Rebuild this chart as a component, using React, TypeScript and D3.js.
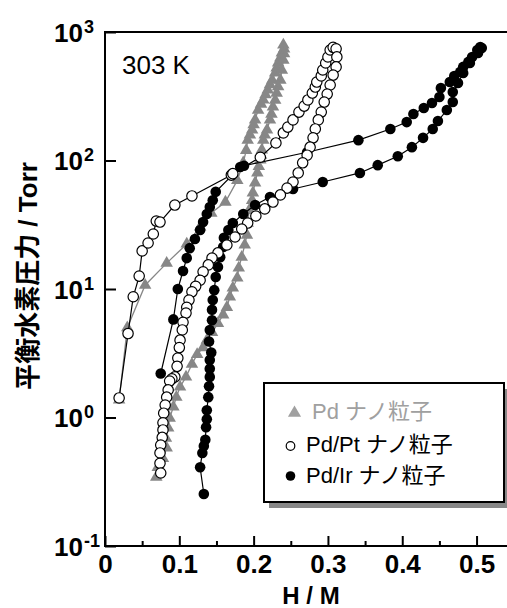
import React, { useEffect, useRef } from 'react';
import * as d3 from 'd3';

type Pt = [number, number];

// H/M, equilibrium pressure (Torr)
const pdData: Pt[] = [
  [0.019, 1.37], [0.030, 5.0], [0.054, 10.7], [0.083, 15.9], [0.110, 22.4], [0.128, 30.4],
  [0.143, 39], [0.162, 47.5], [0.178, 70], [0.186, 96], [0.190, 120], [0.192, 144],
  [0.195, 158], [0.198, 173], [0.200, 190], [0.202, 207], [0.206, 247], [0.210, 275],
  [0.213, 296], [0.216, 325], [0.219, 354], [0.222, 390], [0.225, 423], [0.229, 480],
  [0.231, 525], [0.233, 574], [0.236, 630], [0.238, 687], [0.240, 793],
  [0.241, 740], [0.241, 680], [0.240, 605], [0.238, 506], [0.236, 423], [0.233, 375],
  [0.231, 335], [0.229, 295], [0.226, 261], [0.224, 230], [0.222, 207], [0.218, 173],
  [0.215, 158], [0.213, 144], [0.211, 121], [0.210, 110], [0.209, 101], [0.207, 90],
  [0.205, 80], [0.202, 67], [0.199, 56], [0.198, 49], [0.194, 41], [0.192, 32.6],
  [0.191, 26.3], [0.188, 22], [0.184, 17.7], [0.180, 14.6], [0.178, 12.2], [0.172, 10.2],
  [0.168, 8.7], [0.164, 7.2], [0.159, 6.3], [0.152, 5.4], [0.144, 4.6], [0.137, 4.0],
  [0.132, 3.5], [0.124, 3.1], [0.117, 2.6], [0.109, 2.07], [0.101, 1.73], [0.096, 1.44],
  [0.092, 1.21], [0.087, 0.99], [0.085, 0.83], [0.082, 0.69], [0.083, 0.58], [0.078, 0.48],
  [0.071, 0.41], [0.069, 0.344],
];

const pdPtData: Pt[] = [
  [0.019, 1.42], [0.031, 4.5], [0.038, 8.7], [0.046, 12.6], [0.050, 19.8], [0.058, 22.8],
  [0.065, 26.8], [0.069, 33.8], [0.074, 33.2], [0.094, 45], [0.117, 53], [0.170, 77],
  [0.172, 79], [0.209, 106], [0.230, 137], [0.240, 164], [0.246, 182], [0.253, 207],
  [0.261, 238], [0.268, 265], [0.273, 296], [0.279, 335], [0.283, 373], [0.285, 408],
  [0.291, 455], [0.293, 506], [0.297, 574], [0.300, 639], [0.303, 724], [0.307, 760],
  [0.311, 740], [0.312, 640], [0.311, 535], [0.307, 462], [0.303, 387], [0.299, 329],
  [0.295, 285], [0.291, 238], [0.287, 207], [0.283, 176], [0.280, 150], [0.276, 127],
  [0.272, 110], [0.266, 96], [0.260, 80], [0.253, 68], [0.245, 61], [0.236, 54],
  [0.226, 47.5], [0.215, 42], [0.203, 37], [0.192, 32.6], [0.184, 29.3], [0.175, 25.4],
  [0.164, 22], [0.152, 19.1], [0.144, 17.4], [0.139, 15.4], [0.132, 13.6], [0.128, 11.7],
  [0.122, 10.5], [0.117, 9.5], [0.113, 8.2], [0.110, 7.2], [0.109, 6.5], [0.105, 5.5],
  [0.104, 4.8], [0.101, 4.0], [0.100, 3.5], [0.098, 2.9], [0.097, 2.5], [0.094, 2.07],
  [0.090, 2.0], [0.087, 1.92], [0.085, 1.64], [0.083, 1.44], [0.081, 1.25], [0.079, 1.08],
  [0.078, 0.91], [0.078, 0.80], [0.077, 0.70], [0.075, 0.61], [0.074, 0.53], [0.074, 0.44],
  [0.075, 0.37],
];

const pdIrData: Pt[] = [
  [0.075, 2.2], [0.092, 5.8], [0.098, 10], [0.105, 13.8], [0.110, 17.4], [0.114, 20.8],
  [0.121, 24.5], [0.128, 28.8], [0.132, 33.2], [0.137, 38.3], [0.141, 43.5], [0.145, 49],
  [0.149, 57], [0.182, 89], [0.187, 91], [0.272, 116], [0.341, 144], [0.384, 176],
  [0.406, 199], [0.415, 230], [0.429, 256], [0.440, 280], [0.450, 312], [0.452, 366],
  [0.464, 408], [0.470, 455], [0.478, 489], [0.482, 535], [0.489, 585], [0.494, 639],
  [0.501, 724], [0.505, 764], [0.507, 750],
  [0.502, 687], [0.491, 574], [0.482, 480], [0.475, 401], [0.468, 341], [0.468, 285],
  [0.460, 247], [0.448, 203], [0.441, 176], [0.428, 150], [0.413, 127], [0.394, 108],
  [0.367, 92], [0.343, 80], [0.293, 68], [0.253, 60], [0.222, 52], [0.202, 45],
  [0.186, 38.3], [0.172, 32.6], [0.166, 28.8], [0.160, 25], [0.159, 21.2], [0.155, 17.7],
  [0.152, 14.8], [0.149, 12.4], [0.147, 9.8], [0.145, 8.2], [0.144, 6.9], [0.144, 5.7],
  [0.141, 4.8], [0.140, 3.9], [0.143, 3.2], [0.141, 2.8], [0.141, 2.4], [0.141, 2.07],
  [0.140, 1.75], [0.139, 1.44], [0.137, 1.14], [0.137, 0.97], [0.136, 0.84], [0.135, 0.67],
  [0.133, 0.6], [0.131, 0.53], [0.128, 0.41], [0.133, 0.254],
];

const xMajor = [0, 0.1, 0.2, 0.3, 0.4, 0.5];
const xMinor = [0.05, 0.15, 0.25, 0.35, 0.45];
const yDecades = [0.1, 1, 10, 100, 1000];
const yExponents = ['-1', '0', '1', '2', '3'];
const legendLabels = ['Pd ナノ粒子', 'Pd/Pt ナノ粒子', 'Pd/Ir ナノ粒子'];

const App: React.FC = () => {
  const svgRef = useRef<SVGSVGElement>(null);

  useEffect(() => {
    if (!svgRef.current) return;
    const svg = d3.select(svgRef.current);
    svg.selectAll('*').remove();

    const latin = "'Liberation Sans', Arial, Helvetica, sans-serif";
    const mixed = "'Liberation Sans', Arial, 'Noto Sans CJK JP', sans-serif";
    const gray = '#878787';

    const x = d3.scaleLinear().domain([0, 0.545]).range([105, 510]);
    const y = d3.scaleLog().domain([0.1, 1000]).range([546, 32]);

    // frame
    svg.append('rect')
      .attr('x', 105).attr('y', 32).attr('width', 405).attr('height', 514)
      .attr('fill', 'none').attr('stroke', '#000').attr('stroke-width', 2);

    // x axis
    const gx = svg.append('g').attr('transform', 'translate(0,546)')
      .call(d3.axisBottom(x).tickValues(xMajor).tickSizeInner(-10).tickSizeOuter(0).tickPadding(9)
        .tickFormat(d => (d === 0 ? '0' : d3.format('.1f')(d as number))));
    gx.select('.domain').remove();
    gx.selectAll('line').attr('stroke-width', 2);
    gx.selectAll('text').attr('font-family', latin).attr('font-size', 26)
      .attr('font-weight', 'bold').attr('fill', '#000');

    const gxm = svg.append('g').attr('transform', 'translate(0,546)')
      .call(d3.axisBottom(x).tickValues(xMinor).tickSizeInner(-5).tickSizeOuter(0).tickFormat(() => ''));
    gxm.select('.domain').remove();
    gxm.selectAll('line').attr('stroke-width', 2);

    // y axis
    const gy = svg.append('g').attr('transform', 'translate(105,0)')
      .call(d3.axisLeft(y).tickValues(yDecades).tickSizeInner(-11).tickSizeOuter(0).tickFormat(() => ''));
    gy.select('.domain').remove();
    gy.selectAll('line').attr('stroke-width', 2);

    yDecades.forEach((v, i) => {
      svg.append('text').attr('x', 54).attr('y', y(v) + 9.5).text('10')
        .attr('font-family', latin).attr('font-size', 26).attr('font-weight', 'bold');
      svg.append('text').attr('x', 84).attr('y', y(v) + 0.5).text(yExponents[i])
        .attr('font-family', latin).attr('font-size', 18).attr('font-weight', 'bold');
    });

    // titles
    svg.append('text').attr('x', 311).attr('y', 604).attr('text-anchor', 'middle')
      .text('H / M').attr('font-family', latin).attr('font-size', 24).attr('font-weight', 'bold');
    svg.append('text').attr('transform', 'translate(37,276) rotate(-90)').attr('text-anchor', 'middle')
      .text('平衡水素圧力 / Torr').attr('font-family', mixed).attr('font-size', 26).attr('font-weight', 'bold');
    svg.append('text').attr('x', 122).attr('y', 74).text('303 K')
      .attr('font-family', latin).attr('font-size', 26);

    const line = d3.line<Pt>().x(d => x(d[0])).y(d => y(d[1]));
    const tri = d3.symbol(d3.symbolTriangle, 68)() as string;

    // Pd
    svg.append('path').datum(pdData).attr('d', line).attr('fill', 'none')
      .attr('stroke', gray).attr('stroke-width', 1.3);
    svg.append('g').selectAll('path').data(pdData).join('path')
      .attr('d', tri).attr('transform', d => `translate(${x(d[0])},${y(d[1])})`).attr('fill', gray);

    // Pd/Ir
    svg.append('path').datum(pdIrData).attr('d', line).attr('fill', 'none')
      .attr('stroke', '#000').attr('stroke-width', 1.2);
    svg.append('g').selectAll('circle').data(pdIrData).join('circle')
      .attr('cx', d => x(d[0])).attr('cy', d => y(d[1])).attr('r', 5.3).attr('fill', '#000');

    // Pd/Pt
    svg.append('path').datum(pdPtData).attr('d', line).attr('fill', 'none')
      .attr('stroke', '#000').attr('stroke-width', 1.2);
    svg.append('g').selectAll('circle').data(pdPtData).join('circle')
      .attr('cx', d => x(d[0])).attr('cy', d => y(d[1])).attr('r', 5.2)
      .attr('fill', '#fff').attr('stroke', '#000').attr('stroke-width', 1.2);

    // legend
    const lg = svg.append('g');
    lg.append('rect').attr('x', 269).attr('y', 389).attr('width', 240).attr('height', 119).attr('fill', '#888');
    lg.append('rect').attr('x', 264).attr('y', 383).attr('width', 240).attr('height', 119)
      .attr('fill', '#fff').attr('stroke', '#000').attr('stroke-width', 2);
    lg.append('path').attr('d', d3.symbol(d3.symbolTriangle, 75)() as string)
      .attr('transform', 'translate(294.5,413)').attr('fill', '#a0a0a0');
    lg.append('circle').attr('cx', 290.5).attr('cy', 446).attr('r', 4.3)
      .attr('fill', '#fff').attr('stroke', '#000').attr('stroke-width', 1.2);
    lg.append('circle').attr('cx', 290.5).attr('cy', 476).attr('r', 4.8).attr('fill', '#000');
    const rows = [{ x: 312, y: 419, c: '#a0a0a0' }, { x: 306, y: 452, c: '#000' }, { x: 306, y: 483, c: '#000' }];
    legendLabels.forEach((t, i) => {
      lg.append('text').attr('x', rows[i].x).attr('y', rows[i].y).text(t)
        .attr('font-family', mixed).attr('font-size', 22).attr('fill', rows[i].c);
    });
  }, []);

  return (
    <>
      <style>{'body{margin:0}'}</style>
      <svg ref={svgRef} width={507} height={608} style={{ display: 'block', background: '#fff' }} />
    </>
  );
};

export default App;
